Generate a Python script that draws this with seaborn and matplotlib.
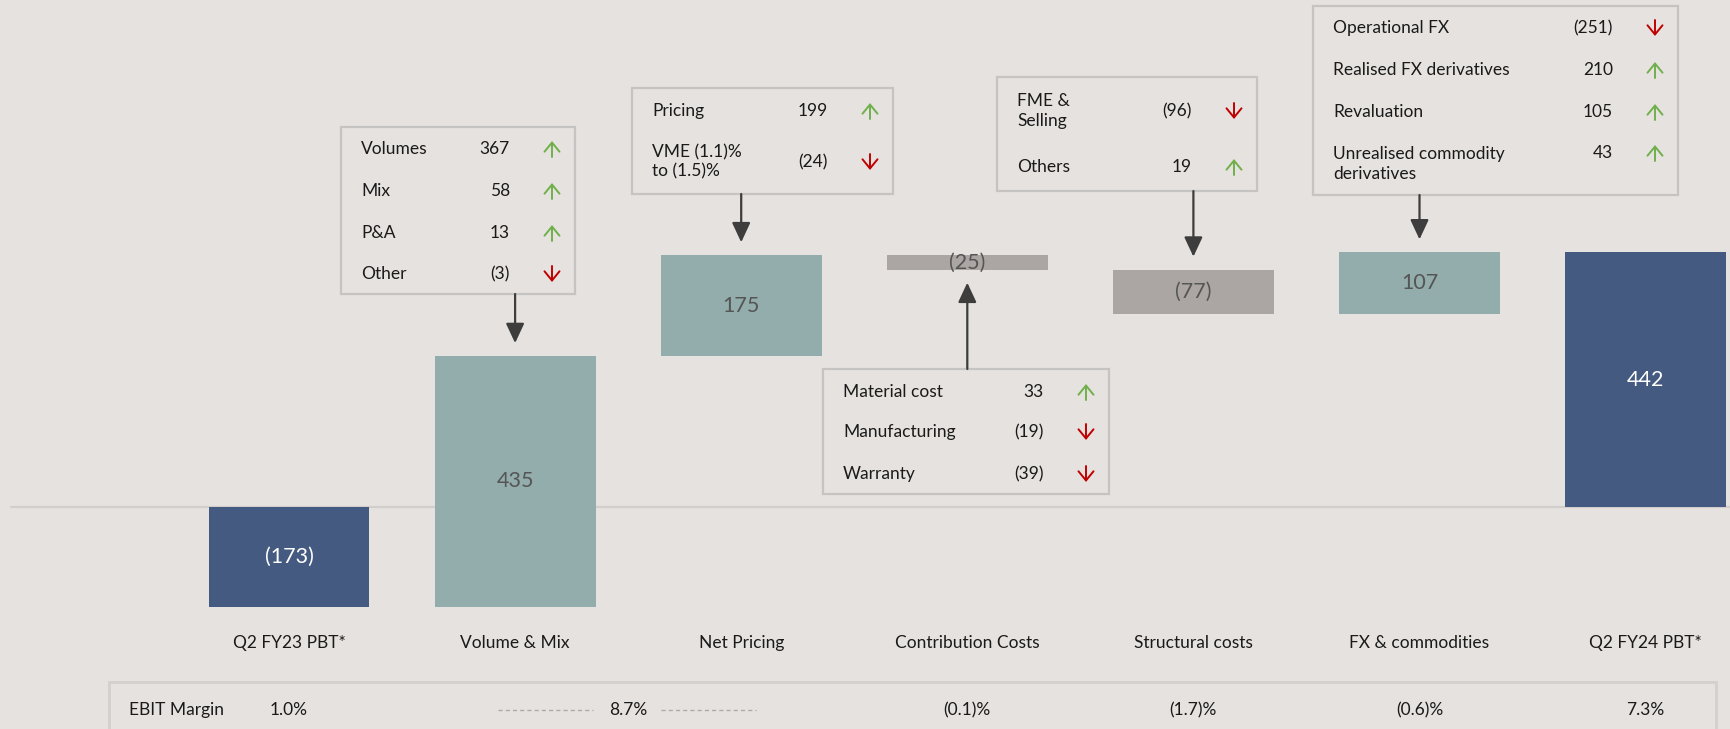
import numpy as np
import pandas as pd
import matplotlib
matplotlib.use("Agg")
import matplotlib.pyplot as plt
from matplotlib.patches import Rectangle
import seaborn as sns

# ---------------- data ----------------
categories = ["Q2 FY23 PBT*", "Volume & Mix", "Net Pricing", "Contribution Costs",
              "Structural costs", "FX & commodities", "Q2 FY24 PBT*"]
changes = [-173, 435, 175, -25, -77, 107, 442]
is_total = [True, False, False, False, False, False, True]

callout_labels = [
    ["Volumes", "Mix", "P&A", "Other"],
    ["Pricing", "VME (1.1)%\nto (1.5)%"],
    ["Material cost", "Manufacturing", "Warranty"],
    ["FME &\nSelling", "Others"],
    ["Operational FX", "Realised FX derivatives", "Revaluation", "Unrealised commodity\nderivatives"],
]
callout_values = [
    [367, 58, 13, -3],
    [199, -24],
    [33, -19, -39],
    [-96, 19],
    [-251, 210, 105, 43],
]
callout_bar = [1, 2, 3, 4, 5]

margin_label = "EBIT Margin"
margins = [1.0, 8.7, -0.1, -1.7, -0.6, 7.3]

# ---------------- layout ----------------
W, H = 1731, 729
BG = "#e6e2df"
C_TOTAL = "#455a80"
C_POS = "#93acac"
C_NEG = "#aba6a4"
GREEN = "#6fb04a"
RED = "#c00000"

X0_PX, STEP_PX = 289.0, 226.1        # centre of first bar, spacing (pixels)
Y0_PX, PX_PER_UNIT = 507.0, 0.576    # zero line, scale

XL0 = -X0_PX / STEP_PX
XL1 = (W - X0_PX) / STEP_PX
YL1 = Y0_PX / PX_PER_UNIT
YL0 = -(H - Y0_PX) / PX_PER_UNIT


def dx(px):
    return XL0 + px / W * (XL1 - XL0)


def dy(py):
    return YL1 - py / H * (YL1 - YL0)


def fmt(v):
    return f"({abs(v)})" if v < 0 else f"{v}"


def fmt_pct(v):
    return f"({abs(v):.1f})%" if v < 0 else f"{v:.1f}%"


# waterfall geometry from the data
bottoms, heights = [], []
running = 0
for c, tot in zip(changes, is_total):
    if tot:
        bottoms.append(0)
        heights.append(c)
        running = c
    else:
        bottoms.append(running)
        heights.append(c)
        running += c
colors = [C_TOTAL if t else (C_POS if c > 0 else C_NEG) for c, t in zip(changes, is_total)]

df = pd.DataFrame({"cat": categories, "height": heights})

sns.set_theme(style="white", rc={"axes.facecolor": BG, "figure.facecolor": BG})
plt.rcParams["font.family"] = ["Lato", "DejaVu Sans"]

fig = plt.figure(figsize=(W / 100, H / 100), dpi=100)
fig.patch.set_facecolor(BG)
ax = fig.add_axes([0, 0, 1, 1])
ax.set_facecolor(BG)

sns.barplot(data=df, x="cat", y="height", order=categories, bottom=np.array(bottoms, dtype=float),
            width=0.712, color=C_POS, errorbar=None, ax=ax, zorder=3, linewidth=0)
for p, col in zip(ax.patches, colors):
    p.set_facecolor(col)
    p.set_edgecolor(col)

ax.set_xlim(XL0, XL1)
ax.set_ylim(YL0, YL1)
ax.axis("off")

# zero line
ax.plot([dx(11), dx(W)], [0, 0], color="#d2cecb", lw=1.6, zorder=1)

# bar value labels and category labels
for i, (b, h, tot) in enumerate(zip(bottoms, heights, is_total)):
    ax.text(i, b + h / 2, fmt(changes[i]), ha="center", va="center", fontsize=15.5,
            color="white" if tot else "#555555", zorder=5)
    ax.text(i, dy(643), categories[i], ha="center", va="center", fontsize=12.5, color="#1a1a1a")

# callout boxes
box_rects = [(341, 127, 575, 294), (632, 88, 893, 194), (823, 369, 1109, 494),
             (997, 77, 1257, 191), (1313, 6, 1678, 195)]
row_y = [[149, 191, 233, 274], [111, 162], [392, 432, 474], [111, 167], [28, 70, 112, 153]]
label_dy = [[0, 0, 0, 0], [0, 0], [0, 0, 0], [0, 0], [0, 0, 0, 11]]

for k, (l, t, r, bt) in enumerate(box_rects):
    ax.add_patch(Rectangle((dx(l), dy(bt)), dx(r) - dx(l), dy(t) - dy(bt),
                           facecolor=BG, edgecolor="#c6c4c2", lw=1.6, zorder=4))
    for lab, val, yy, ddy in zip(callout_labels[k], callout_values[k], row_y[k], label_dy[k]):
        ax.text(dx(l + 20), dy(yy + ddy), lab, ha="left", va="center", fontsize=12.5,
                color="#1a1a1a", linespacing=1.25, zorder=5)
        ax.text(dx(r - 65), dy(yy), fmt(val), ha="right", va="center", fontsize=12.5,
                color="#1a1a1a", zorder=5)
        # small direction arrow (open V head)
        up = val > 0
        y_tail, y_head = (yy + 8, yy - 8) if up else (yy - 8, yy + 8)
        ax.annotate("", xy=(dx(r - 23), dy(y_head)), xytext=(dx(r - 23), dy(y_tail)),
                    arrowprops=dict(arrowstyle="->,head_length=0.55,head_width=0.45",
                                    mutation_scale=12, color=GREEN if up else RED, lw=1.4,
                                    shrinkA=0, shrinkB=0), zorder=5)
    # connector arrow
    bi = callout_bar[k]
    btop = max(bottoms[bi], bottoms[bi] + heights[bi])
    bbot = min(bottoms[bi], bottoms[bi] + heights[bi])
    gap = 13 / PX_PER_UNIT
    if dy(bt) > btop:   # box above bar
        start = (bi, dy(bt))
        end = (bi, btop + gap)
    else:               # box below bar
        start = (bi, dy(t))
        end = (bi, bbot - gap)
    ax.annotate("", xy=end, xytext=start,
                arrowprops=dict(arrowstyle="-|>,head_length=0.6,head_width=0.28",
                                mutation_scale=20, color="#3d3d3d", lw=1.6,
                                shrinkA=0, shrinkB=0), zorder=4)

# EBIT margin row
ax.add_patch(Rectangle((dx(109), dy(745)), dx(1716) - dx(109), dy(682) - dy(745),
                       facecolor=BG, edgecolor="#d3d0cd", lw=2, zorder=1, clip_on=False))
ty = dy(710)
ax.text(dx(129), ty, margin_label, ha="left", va="center", fontsize=12.5, color="#1a1a1a")
margin_pos = [0, 1.5, 3, 4, 5, 6]
for pos, m in zip(margin_pos, margins):
    ax.text(pos, ty, fmt_pct(m), ha="center", va="center", fontsize=12.5, color="#1a1a1a")
for a, b in [(498, 593), (661, 756)]:
    ax.plot([dx(a), dx(b)], [ty, ty], color="#ababab", lw=1, ls=(0, (3, 2.2)))

fig.savefig("out.png", dpi=100, facecolor=BG)
